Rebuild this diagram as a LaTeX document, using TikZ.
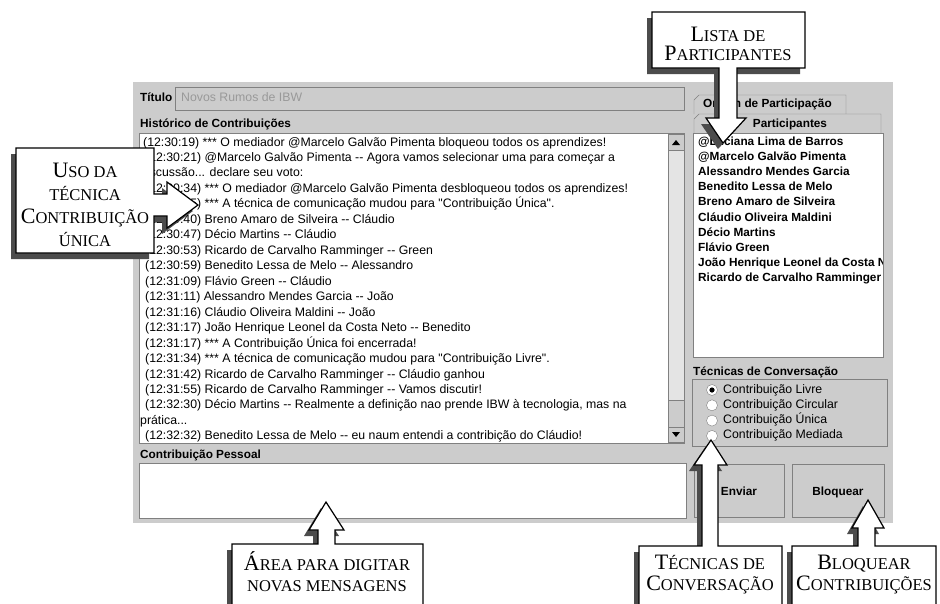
\documentclass[tikz,border=0pt]{standalone}
\usepackage{fontspec}
\usepackage{xcolor}
\usepackage{tikz}
\usetikzlibrary{shadows}

\newfontfamily\uifont{Liberation Sans}
\newfontfamily\calloutfont{Liberation Serif}

\definecolor{panelgray}{RGB}{204,204,204}
\definecolor{edgegray}{RGB}{128,128,128}
\definecolor{tracklight}{RGB}{228,228,228}

\newcommand{\capsc}[2]{{\fontsize{22}{21}\selectfont #1}{\fontsize{16.5}{21}\selectfont #2}}

\tikzset{
	histline/.style={anchor=west, inner sep=0pt, text height=9pt, text depth=3pt, font=\uifont\fontsize{12.3}{14}\selectfont},
	uilabel/.style={anchor=west, inner sep=0pt, text height=9pt, text depth=3pt, font=\uifont\bfseries\fontsize{11.8}{14}\selectfont},
	textarea/.style={draw=edgegray, fill=white},
	widget/.style={draw=edgegray, fill=panelgray},
	callout/.style={draw=black, line width=1.2pt, fill=white,
		drop shadow={shadow xshift=-5pt, shadow yshift=-6pt, fill=black!70, opacity=1}},
	callouttext/.style={align=center, inner sep=0pt, font=\calloutfont\fontsize{16.5}{21}\selectfont}
}

\begin{document}
\begin{tikzpicture}[x=1pt, y=-1pt]
\useasboundingbox[fill=white] (0,0) rectangle (940,603);

\fill[panelgray] (133,82) rectangle (893,523);

\node[uilabel] (titulo) at (140,98) {Título};
\draw[widget] (175,87) rectangle (684,110);
\node[histline, text=black!40] (tituloTexto) at (181,98) {Novos Rumos de IBW};

\node[uilabel] (historico) at (140,124) {Histórico de Contribuições};
\draw[textarea] (139,133) rectangle (684,443);
\draw[edgegray, fill=tracklight] (668,134) rectangle (684,442);
\draw[widget] (668,134) rectangle (684,150);
\fill (672,145)--(680,145)--(676,140)--cycle;
\draw[widget] (668,400) rectangle (684,427);
\draw[widget] (668,427) rectangle (684,442);
\fill (672,432)--(680,432)--(676,437)--cycle;

\foreach \x/\t [count=\i from 0] in {
	143/{(12:30:19) *** O mediador @Marcelo Galvão Pimenta bloqueou todos os aprendizes!},
	145/{(12:30:21) @Marcelo Galvão Pimenta -{}- Agora vamos selecionar uma para começar a},
	140/{discussão... declare seu voto:},
	145/{(12:30:34) *** O mediador @Marcelo Galvão Pimenta desbloqueou todos os aprendizes!},
	145/{(12:30:35) *** A técnica de comunicação mudou para "Contribuição Única".},
	145/{(12:30:40) Breno Amaro de Silveira -{}- Cláudio},
	145/{(12:30:47) Décio Martins -{}- Cláudio},
	145/{(12:30:53) Ricardo de Carvalho Ramminger -{}- Green},
	145/{(12:30:59) Benedito Lessa de Melo -{}- Alessandro},
	145/{(12:31:09) Flávio Green -{}- Cláudio},
	145/{(12:31:11) Alessandro Mendes Garcia -{}- João},
	145/{(12:31:16) Cláudio Oliveira Maldini -{}- João},
	145/{(12:31:17) João Henrique Leonel da Costa Neto -{}- Benedito},
	145/{(12:31:17) *** A Contribuição Única foi encerrada!},
	145/{(12:31:34) *** A técnica de comunicação mudou para "Contribuição Livre".},
	145/{(12:31:42) Ricardo de Carvalho Ramminger -{}- Cláudio ganhou},
	145/{(12:31:55) Ricardo de Carvalho Ramminger -{}- Vamos discutir!},
	145/{(12:32:30) Décio Martins -{}- Realmente a definição nao prende IBW à tecnologia, mas na},
	140/{prática...},
	145/{(12:32:32) Benedito Lessa de Melo -{}- eu naum entendi a contribição do Cláudio!}
}{
	\node[histline] (hist\i) at (\x,143+15.47*\i) {\t};
}

\node[uilabel] (pessoal) at (140,455) {Contribuição Pessoal};
\draw[textarea] (139,463) rectangle (686,518);

\draw[widget] (694,114)--(694,100)--(699,95)--(846,95)--(846,114);
\node[uilabel] (abaOrdem) at (703,104) {Ordem de Participação};
\draw[widget] (694,133)--(694,119)--(699,114)--(881,114)--(881,133);
\node[uilabel, anchor=center] (abaParticipantes) at (790,124) {Participantes};

\draw[textarea] (693,133) rectangle (883,357);
\begin{scope}
	\clip (694,134) rectangle (882,356);
	\foreach \t [count=\i from 0] in {@Luciana Lima de Barros, @Marcelo Galvão Pimenta,
		Alessandro Mendes Garcia, Benedito Lessa de Melo, Breno Amaro de Silveira,
		Cláudio Oliveira Maldini, Décio Martins, Flávio Green,
		João Henrique Leonel da Costa Neto, Ricardo de Carvalho Ramminger}{
		\node[uilabel] (nome\i) at (698,142+15.2*\i) {\t};
	}
\end{scope}

\node[uilabel] (tecnicas) at (693,372) {Técnicas de Conversação};
\draw[edgegray] (692,379) rectangle (887,446);
\foreach \t [count=\i from 0] in {Livre, Circular, Única, Mediada}{
	\draw[textarea] (712,390+15.3*\i) circle (5.5);
	\node[histline] (radio\i) at (723,390+15.3*\i) {Contribuição \t};
}
\fill (712,390) circle (2.6);

\draw[widget] (694,464) rectangle (784,517);
\node[uilabel, anchor=center] (enviar) at (739,492) {Enviar};
\draw[widget] (792,464) rectangle (884,517);
\node[uilabel, anchor=center] (bloquear) at (838,492) {Bloquear};

\draw[callout] (16,148)--(154,148)--(154,194)--(167,194)--(167,182)--(198,205)--(167,228)--(167,216)--(154,216)--(154,253)--(16,253)--cycle;
\node[callouttext, font=\calloutfont\fontsize{16.5}{23}\selectfont] (usoTecnica) at (85,205)
	{\capsc{U}{SO DA}\\\capsc{}{TÉCNICA}\\\capsc{C}{ONTRIBUIÇÃO}\\\capsc{}{ÚNICA}};

\draw[callout] (652,12)--(805,12)--(805,68)--(737,68)--(737,118)--(746,118)--(723,143)--(706,118)--(719,118)--(719,68)--(652,68)--cycle;
\node[callouttext, font=\calloutfont\fontsize{16.5}{19}\selectfont] (listaPart) at (728,44)
	{\capsc{L}{ISTA DE}\\\capsc{P}{ARTICIPANTES}};

\draw[callout] (232,612)--(232,544)--(318,544)--(318,530)--(309,530)--(326,502)--(344,530)--(335,530)--(335,544)--(423,544)--(423,612)--cycle;
\node[callouttext] (areaDigitar) at (327,572)
	{\capsc{Á}{REA PARA DIGITAR}\\\capsc{}{NOVAS MENSAGENS}};

\draw[callout] (639,612)--(639,546)--(702,546)--(702,465)--(694,465)--(711,440)--(727,465)--(718,465)--(718,546)--(782,546)--(782,612)--cycle;
\node[callouttext] (tecConversa) at (710,575)
	{\capsc{T}{ÉCNICAS DE}\\\capsc{C}{ONVERSAÇÃO}};

\draw[callout] (792,612)--(792,546)--(858,546)--(858,528)--(852,528)--(868,500)--(884,528)--(875,528)--(875,546)--(936,546)--(936,612)--cycle;
\node[callouttext] (bloqContrib) at (864,575)
	{\capsc{B}{LOQUEAR}\\\capsc{C}{ONTRIBUIÇÕES}};
\end{tikzpicture}
\end{document}
